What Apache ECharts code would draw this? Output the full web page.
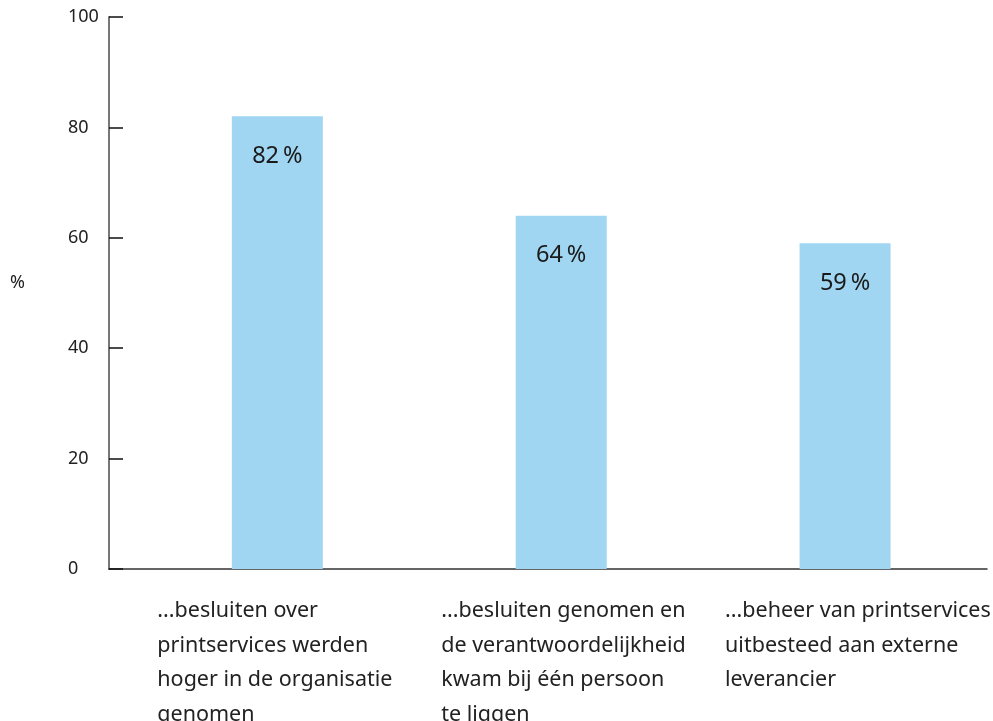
<!DOCTYPE html>
<html>
<head>
<meta charset="utf-8">
<script src="https://cdn.jsdelivr.net/npm/echarts@6/dist/echarts.min.js"></script>
<style>html,body{margin:0;padding:0;background:#fff;}#chart{width:993px;height:721px;}</style>
</head>
<body>
<div id="chart"></div>
<script>
const categories = [
  ['...besluiten over', 'printservices werden', 'hoger in de organisatie', 'genomen'],
  ['...besluiten genomen en', 'de verantwoordelijkheid', 'kwam bij één persoon', 'te liggen'],
  ['...beheer van printservices', 'uitbesteed aan externe', 'leverancier']
];
const values = [82, 64, 59];
const yTicks = [0, 20, 40, 60, 80, 100];

const chart = echarts.init(document.getElementById('chart'));
const FONT = 'Noto Sans';
chart.setOption({
  animation: false,
  grid: { left: 109, right: 6, top: 17, bottom: 152, containLabel: false, outerBoundsMode: 'none' },
  xAxis: {
    type: 'value',
    min: -0.593,
    max: 2.5,
    splitLine: { show: false },
    axisLine: { show: true, onZero: false, lineStyle: { color: '#333', width: 1.5 } },
    axisTick: { show: false },
    axisLabel: {
      customValues: categories.map((c, i) => i),
      margin: 25,
      fontFamily: FONT,
      fontSize: 21.5,
      color: '#222',
      align: 'center',
      verticalAlign: 'top',
      width: 240,
      overflow: 'none',
      formatter: v => {
        const c = categories[Math.round(v)];
        return c ? c.map(s => '{a|' + s + '}').join('\n') : '';
      },
      rich: { a: { align: 'left', fontFamily: FONT, fontSize: 21.5, lineHeight: 34.5, color: '#222' } }
    }
  },
  yAxis: {
    type: 'value',
    min: 0,
    max: 100,
    interval: 20,
    name: '%',
    nameLocation: 'middle',
    nameRotate: 0,
    nameGap: 84,
    nameTextStyle: { fontFamily: FONT, fontSize: 18, color: '#222', verticalAlign: 'bottom', lineHeight: 20 },
    splitLine: { show: false },
    axisLine: { show: true, onZero: false, lineStyle: { color: '#777', width: 2 } },
    axisTick: { show: true, inside: true, length: 14, lineStyle: { color: '#111', width: 1.5 } },
    axisLabel: {
      customValues: yTicks,
      margin: 41,
      align: 'left',
      fontFamily: FONT,
      fontSize: 18,
      color: '#222',
      padding: [8, 0, 0, 0]
    }
  },
  series: [{
    type: 'bar',
    barWidth: 91,
    data: values.map((v, i) => [i, v]),
    itemStyle: { color: '#a0d6f1' },
    label: {
      show: true,
      position: 'insideTop',
      distance: 28,
      fontFamily: FONT,
      fontSize: 23.5,
      color: '#1a1a1a',
      formatter: p => p.value[1] + '\u2009%'
    }
  }]
});
</script>
</body>
</html>
